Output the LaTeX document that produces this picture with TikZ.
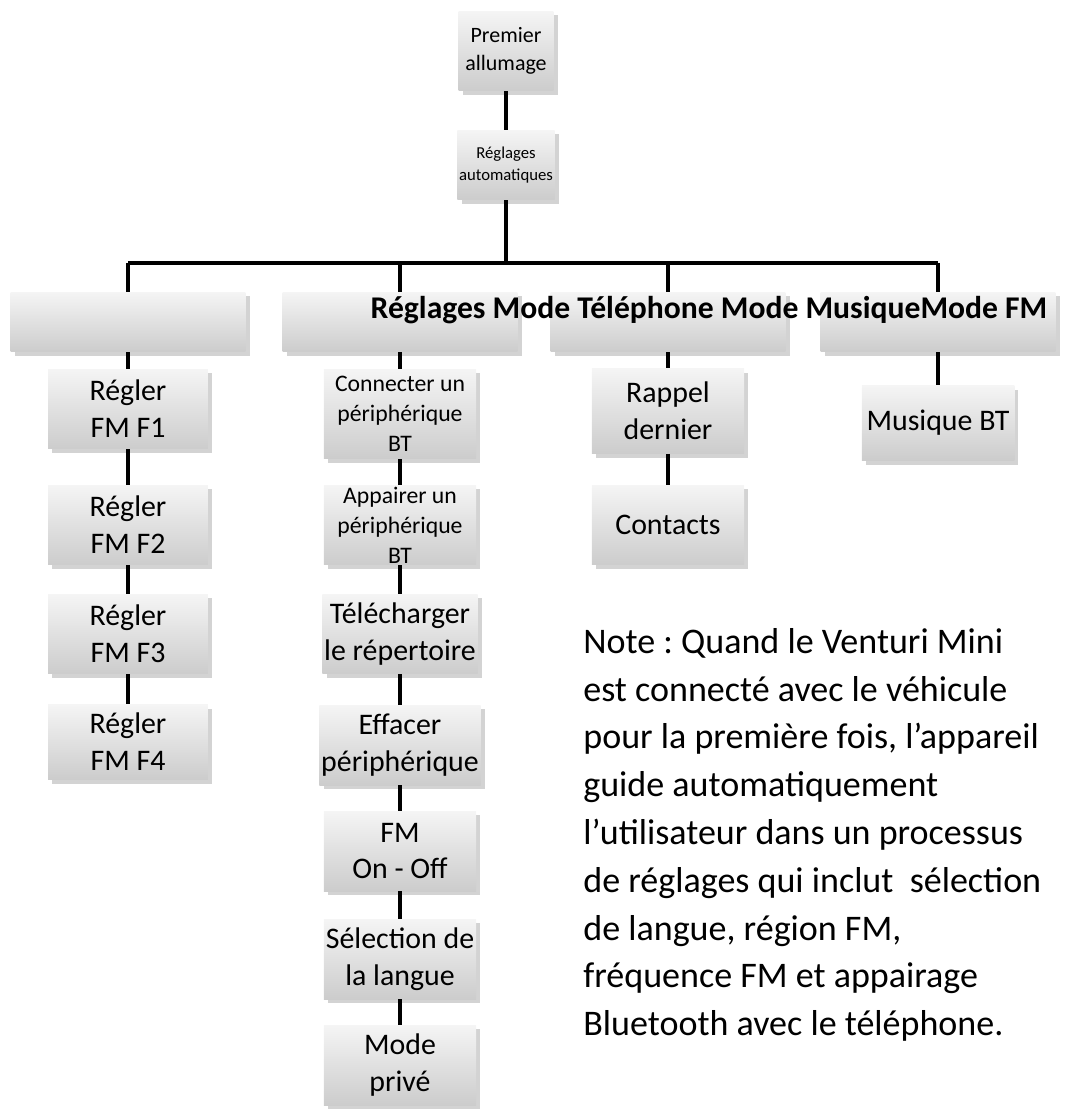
\documentclass[tikz,border=0pt]{standalone}
\usepackage{fontspec}
\setmainfont{Carlito}
\usetikzlibrary{shadows}
\frenchspacing
\begin{document}
\begin{tikzpicture}[x=0.02cm,y=-0.02cm]
    \tikzstyle{edge}=[draw=black,line width=2.2pt,-]
    \tikzstyle{box}=[rectangle,top color=gray!8,bottom color=gray!40,drop shadow={opacity=0.35},align=center,inner sep=1pt,font=\fontsize{17}{21}\selectfont]
    \tikzstyle{big}=[box,minimum width=4.7cm,minimum height=1.2cm]
    \tikzstyle{label}=[font=\bfseries\fontsize{18}{20}\selectfont,inner sep=0pt]

    \useasboundingbox (0,0) rectangle (1064,1118);

    \node[box,minimum width=1.9cm,minimum height=1.6cm,font=\fontsize{12.5}{16}\selectfont] (top) at (506,51) {Premier\\allumage};
    \node[box,minimum width=1.9cm,minimum height=1.4cm,font=\fontsize{9.5}{13}\selectfont] (auto) at (506,165) {Réglages\\automatiques};

    \node[big] (r1) at (128,322) {};
    \node[big] (r2) at (400,322) {};
    \node[big] (r3) at (668,322) {};
    \node[big] (r4) at (938,322) {};

    \node[label] (modes) at (709,310) {Réglages Mode Téléphone Mode MusiqueMode FM};

    % colonne FM
    \node[box,minimum width=3.2cm,minimum height=1.6cm] (f1) at (128,409) {Régler\\FM F1};
    \node[box,minimum width=3.2cm,minimum height=1.6cm] (f2) at (128,525) {Régler\\FM F2};
    \node[box,minimum width=3.2cm,minimum height=1.6cm] (f3) at (128,634) {Régler\\FM F3};
    \node[box,minimum width=3.2cm,minimum height=1.5cm] (f4) at (128,742) {Régler\\FM F4};

    % colonne reglages
    \node[box,minimum width=3.05cm,minimum height=1.8cm,font=\fontsize{13.5}{17}\selectfont] (g1) at (400,414) {Connecter un\\périphérique\\BT};
    \node[box,minimum width=3.05cm,minimum height=1.6cm,font=\fontsize{13.5}{17}\selectfont] (g2) at (400,525) {Appairer un\\périphérique\\BT};
    \node[box,minimum width=3.05cm,minimum height=1.6cm] (g3) at (400,634) {Télécharger\\le répertoire};
    \node[box,minimum width=3.05cm,minimum height=1.6cm] (g4) at (400,745) {Effacer\\périphérique};
    \node[box,minimum width=3.05cm,minimum height=1.6cm] (g5) at (400,851) {FM\\On - Off};
    \node[box,minimum width=3.05cm,minimum height=1.6cm] (g6) at (400,959) {Sélection de\\la langue};
    \node[box,minimum width=3.05cm,minimum height=1.6cm] (g7) at (400,1065) {Mode\\privé};

    % colonne telephone
    \node[box,minimum width=3.05cm,minimum height=1.7cm] (t1) at (668,411) {Rappel\\dernier};
    \node[box,minimum width=3.05cm,minimum height=1.6cm] (t2) at (668,525) {Contacts};

    % colonne musique
    \node[box,minimum width=3.05cm,minimum height=1.5cm] (m1) at (938,423) {Musique BT};

    \coordinate (bar) at (506,263);
    \coordinate (b1) at (128,263);
    \coordinate (b4) at (938,263);

    \path[edge] (top) -- (auto);
    \path[edge] (auto) -- (bar);
    \path[edge] (b1) -- (b4);
    \path[edge] (b1) -- (r1);
    \path[edge] (r2.north |- bar) -- (r2);
    \path[edge] (r3.north |- bar) -- (r3);
    \path[edge] (b4) -- (r4);

    \path[edge] (r1) -- (f1);
    \path[edge] (f1) -- (f2);
    \path[edge] (f2) -- (f3);
    \path[edge] (f3) -- (f4);

    \path[edge] (r2) -- (g1);
    \path[edge] (g1) -- (g2);
    \path[edge] (g2) -- (g3);
    \path[edge] (g3) -- (g4);
    \path[edge] (g4) -- (g5);
    \path[edge] (g5) -- (g6);
    \path[edge] (g6) -- (g7);

    \path[edge] (r3) -- (t1);
    \path[edge] (t1) -- (t2);
    \path[edge] (r4) -- (m1);

    \node[anchor=north west,align=left,inner sep=0pt,font=\fontsize{20.5}{27.2}\selectfont] (note) at (583,628)
        {Note : Quand le Venturi Mini\\est connecté avec le véhicule\\pour la première fois, l’appareil\\guide automatiquement\\l’utilisateur dans un processus\\de réglages qui inclut~ sélection\\de langue, région FM,\\fréquence FM et appairage\\Bluetooth avec le téléphone.};
\end{tikzpicture}
\end{document}
